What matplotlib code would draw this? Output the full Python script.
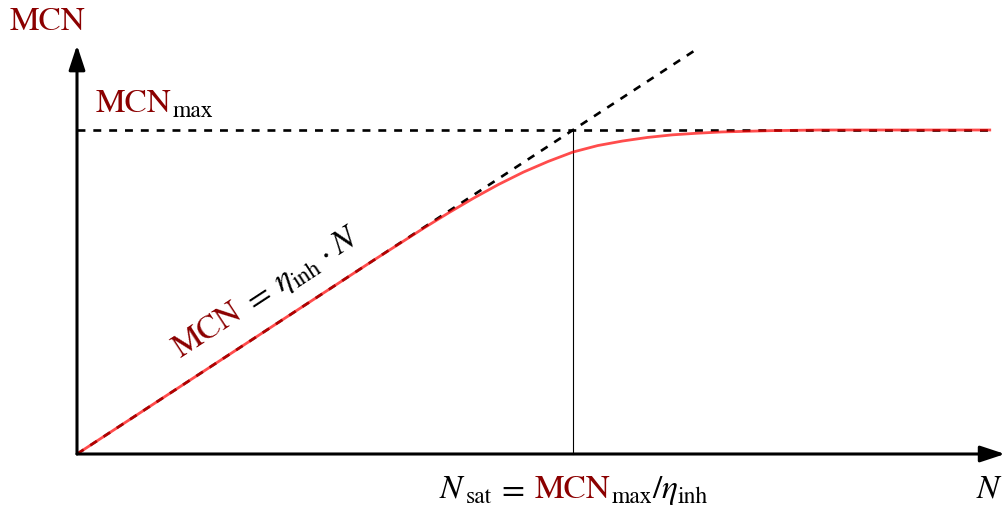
import numpy as np
import matplotlib
matplotlib.use("Agg")
import matplotlib.pyplot as plt

plt.rcParams["font.family"] = ["STIXGeneral", "DejaVu Serif"]
plt.rcParams["mathtext.fontset"] = "stix"

# Model quantities (normalised: eta_inh = 1, MCN_max = 1, N_sat = 1)
eta_inh = 1.0
mcn_max = 1.0
n_sat = mcn_max / eta_inh

# Saturating MCN curve, sampled along N
curve_n = [0.0, 0.60, 0.70, 0.75, 0.80, 0.85, 0.90, 0.95, 1.00, 1.05,
           1.10, 1.15, 1.20, 1.25, 1.30, 1.40, 1.50, 1.843]
curve_mcn = [0.0, 0.600, 0.698, 0.745, 0.790, 0.832, 0.870, 0.903, 0.932, 0.952,
             0.966, 0.977, 0.985, 0.990, 0.994, 0.998, 1.0, 1.0]

# Extents of the guide lines and axes
linear_end = 1.246
cap_end = 1.843
x_axis_end = 1.871
y_axis_end = 1.262

DARKRED = "#8B0000"
BIG = 24
SMALL = 17

fig = plt.figure(figsize=(10.06, 5.12), dpi=100)
ax = fig.add_axes([0, 0, 1, 1])
ax.set_xlim(-77 / 496, (1006 - 77) / 496)
ax.set_ylim(-(512 - 454) / 324, 454 / 324)
ax.axis("off")

# Axes with arrow heads
arrow_kw = dict(arrowstyle="-|>,head_length=1.0,head_width=0.33",
                lw=2.2, color="black", shrinkA=0, shrinkB=0, mutation_scale=15)
ax.annotate("", xy=(x_axis_end, 0), xytext=(0, 0), arrowprops=arrow_kw, zorder=5)
ax.annotate("", xy=(0, y_axis_end), xytext=(0, 0), arrowprops=arrow_kw, zorder=5)

# Guide lines: linear regime and saturation level
dash = (3.0, 3.0)
ax.plot([0, linear_end], [0, eta_inh * linear_end], color="black", lw=1.9,
        dashes=dash, zorder=2)
ax.plot([0, cap_end], [mcn_max, mcn_max], color="black", lw=1.9,
        dashes=dash, zorder=2)
ax.plot([n_sat, n_sat], [0, mcn_max], color="black", lw=0.8, zorder=2)

# Saturating curve on top
ax.plot(curve_n, curve_mcn, color="red", alpha=0.7, lw=2.0,
        solid_capstyle="butt", zorder=3)

renderer = fig.canvas.get_renderer()


def draw_runs(x, y, runs, angle=0.0, ha="left"):
    """Draw text pieces (text, colour, size, baseline shift, gap before) in a row."""
    widths = []
    for s, color, size, dy, gap in runs:
        t = ax.text(0, 0, s, fontsize=size)
        widths.append(t.get_window_extent(renderer).width)
        t.remove()
    total = sum(widths) + sum(r[4] for r in runs)
    pos = {"left": 0.0, "center": -total / 2, "right": -total}[ha]
    c, s_ = np.cos(np.radians(angle)), np.sin(np.radians(angle))
    for (s, color, size, dy, gap), w in zip(runs, widths):
        pos += gap
        ox = pos * c - dy * s_
        oy = pos * s_ + dy * c
        ax.annotate(s, (x, y), xytext=(ox, oy), textcoords="offset pixels",
                    rotation=angle, rotation_mode="anchor", ha="left",
                    va="baseline", color=color, fontsize=size, zorder=6)
        pos += w


# Axis titles
draw_runs(-0.059, (454 - 30) / 324, [("MCN", DARKRED, BIG, 0, 0)], ha="center")
draw_runs(1.839, (454 - 498) / 324, [(r"$N$", "black", BIG, 0, 0)], ha="center")

# Saturation level label
draw_runs((96 - 77) / 496, (454 - 112) / 324,
          [("MCN", DARKRED, BIG, 0, 0), ("max", "black", SMALL, -5, 1)])

# Saturation point label
draw_runs(n_sat, (454 - 498) / 324,
          [(r"$N$", "black", BIG, 0, 0), ("sat", "black", SMALL, -5, 0),
           (r"$=$", "black", BIG, 0, 5), ("MCN", DARKRED, BIG, 0, 10),
           ("max", "black", SMALL, -5, 1), (r"$/\eta$", "black", BIG, 0, 0),
           ("inh", "black", SMALL, -5, -1)], ha="center")

# Linear regime label, along the line
angle = np.degrees(np.arctan2(324, 496))
draw_runs((181 - 77) / 496, (454 - 358) / 324,
          [("MCN", DARKRED, BIG, 0, 0), (r"$=$", "black", BIG, 0, 7),
           (r"$\eta$", "black", BIG, 0, 9), ("inh", "black", SMALL, -5, -1),
           (r"$\cdot$", "black", BIG, 0, 7), (r"$N$", "black", BIG, 0, 7)],
          angle=angle)

fig.savefig("out.png", dpi=100)
